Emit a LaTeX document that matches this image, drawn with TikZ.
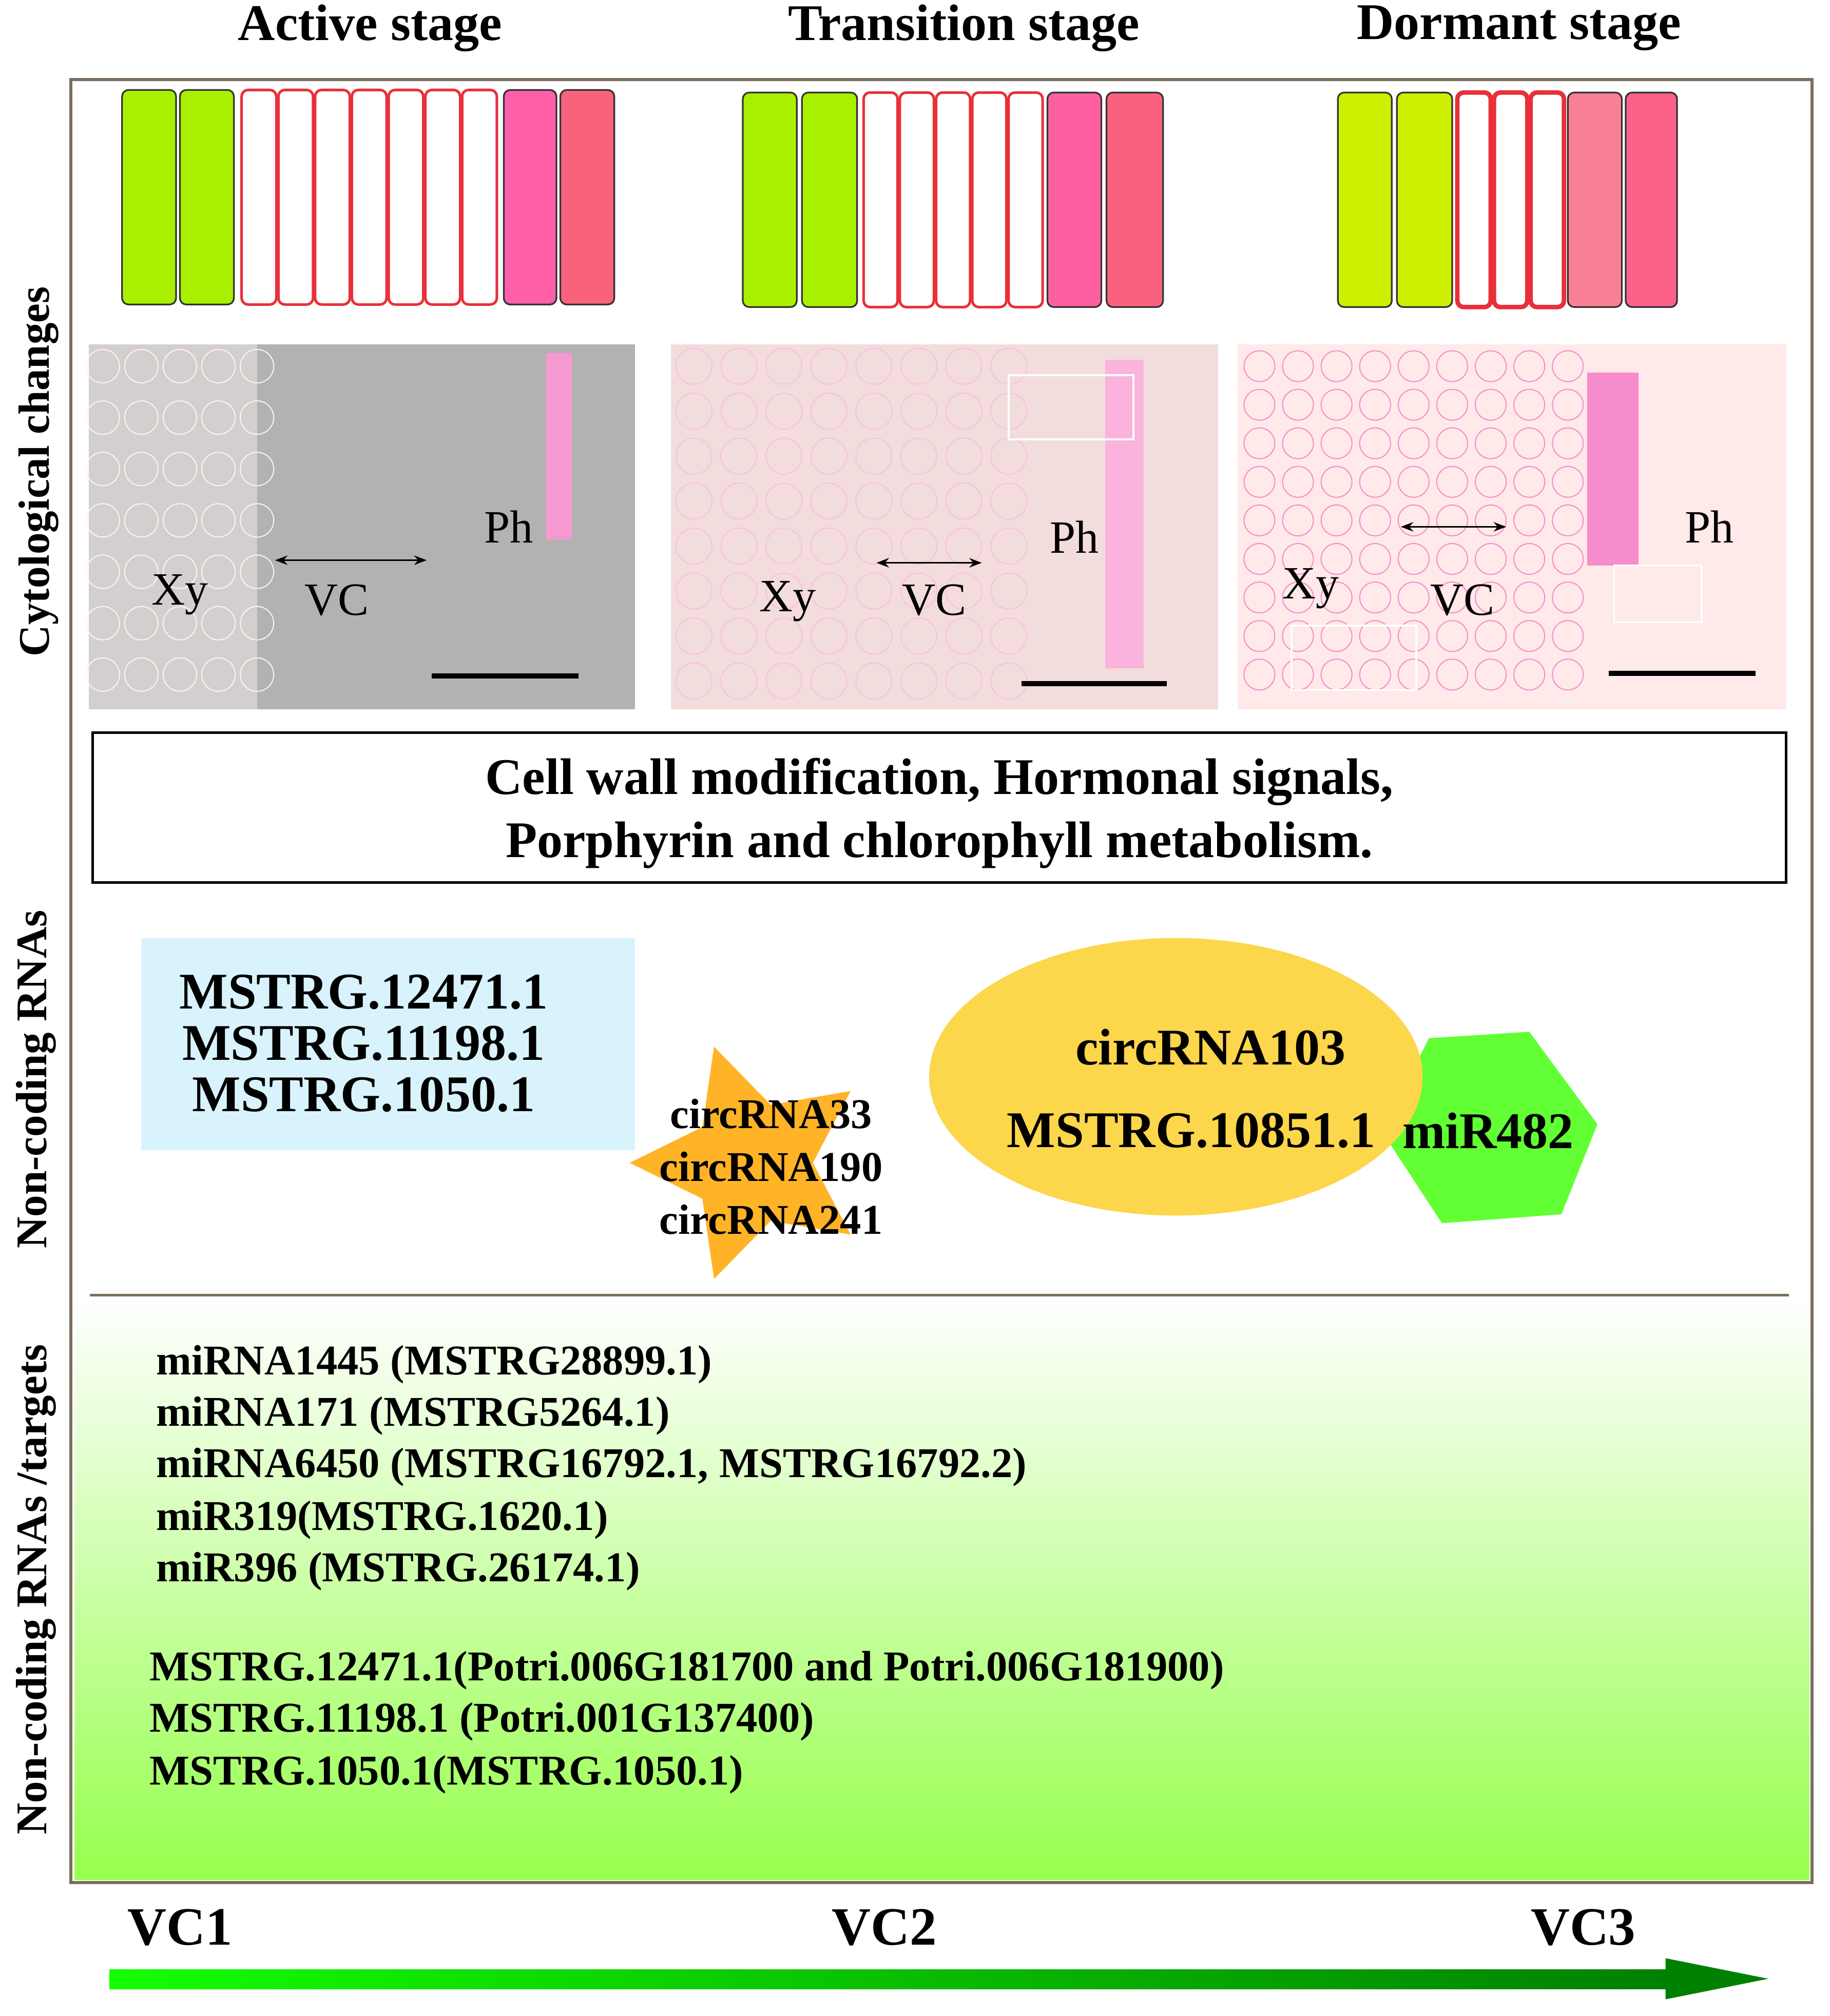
\documentclass[tikz,border=0pt]{standalone}
\usepackage{fontspec}
\setmainfont{Liberation Serif}
\usetikzlibrary{shapes.geometric,arrows.meta}
\definecolor{frm}{HTML}{7A6E5E}
\definecolor{gA}{HTML}{A8F000}
\definecolor{gC}{HTML}{CCF000}
\definecolor{pA}{HTML}{FF5FA8}
\definecolor{pB}{HTML}{F8627A}
\definecolor{rc}{HTML}{E8303A}
\begin{document}
\begin{tikzpicture}[x=1pt,y=-1pt,
  ttl/.style={font=\bfseries\fontsize{40}{42}\selectfont},
  side/.style={font=\bfseries\fontsize{34}{36}\selectfont,rotate=90},
  cellbox/.style={draw=black!80,line width=1.3pt,rounded corners=5pt},
  wcell/.style={draw=rc,line width=2pt,fill=white,rounded corners=5pt},
  lbl/.style={font=\fontsize{36}{38}\selectfont},
  lst/.style={font=\bfseries\fontsize{33}{35}\selectfont,anchor=west},
  big/.style={font=\bfseries\fontsize{40}{42}\selectfont}]
\useasboundingbox (0,0) rectangle (1424,1569);
\fill[white] (0,0) rectangle (1424,1569);
% gradient area
\shade[top color=white,bottom color={green!45!lime!70}] (58,1010) rectangle (1408,1463);
% frame
\draw[frm,line width=2.5pt] (55,62) rectangle (1410,1465);
% titles
\node[ttl] (t1) at (288,22) {Active stage};
\node[ttl] (t2) at (750,22) {Transition stage};
\node[ttl] (t3) at (1182,22) {Dormant stage};
% active cells
\draw[cellbox,fill=gA] (95,70) rectangle (137,237);
\draw[cellbox,fill=gA] (140,70) rectangle (182,237);
\foreach \i in {0,...,6}{\draw[wcell] ({188+\i*28.6},70) rectangle ({188+\i*28.6+27},237);}
\draw[cellbox,fill=pA] (392,70) rectangle (433,237);
\draw[cellbox,fill=pB] (436,70) rectangle (478,237);
% transition cells
\draw[cellbox,fill=gA] (578,72) rectangle (620,239);
\draw[cellbox,fill=gA] (624,72) rectangle (667,239);
\foreach \i in {0,...,4}{\draw[wcell] ({672+\i*28.2},72) rectangle ({672+\i*28.2+26.5},239);}
\draw[cellbox,fill=pA!85!pB] (815,72) rectangle (857,239);
\draw[cellbox,fill=pB!90!pA] (861,72) rectangle (905,239);
% dormant cells
\draw[cellbox,fill=gC] (1041,72) rectangle (1083,239);
\draw[cellbox,fill=gC] (1087,72) rectangle (1130,239);
\foreach \i in {0,...,2}{\draw[wcell,line width=3.5pt] ({1134+\i*28.5},72) rectangle ({1134+\i*28.5+26},239);}
\draw[cellbox,fill=pB!80!white] (1220,72) rectangle (1262,239);
\draw[cellbox,fill=pB!70!pA] (1265,72) rectangle (1305,239);
% photos
\fill[black!30] (69,268) rectangle (494,552);
\fill[pink!60!black!20,opacity=0.6] (69,268) rectangle (200,552);
\fill[magenta!40!white] (425,275) rectangle (445,420);
\fill[black!12!pink!40] (522,268) rectangle (948,552);
\fill[magenta!30!white] (860,280) rectangle (890,520);
\fill[pink!35!white] (963,268) rectangle (1390,552);
\fill[magenta!45!white] (1235,290) rectangle (1275,440);
\foreach \x in {80,110,...,200}{\foreach \y in {285,325,...,545}{\draw[white!80!pink,line width=0.8pt] (\x,\y) circle (13);}}
\foreach \x in {540,575,...,800}{\foreach \y in {285,320,...,545}{\draw[magenta!25,line width=0.8pt] (\x,\y) circle (14);}}
\foreach \x in {980,1010,...,1220}{\foreach \y in {285,315,...,545}{\draw[magenta!45,line width=0.8pt] (\x,\y) circle (12);}}
\draw[white,line width=1.5pt] (785,292) rectangle (882,342);
\draw[white,line width=1.5pt] (1256,440) rectangle (1324,484);
\draw[white,line width=1.5pt] (1005,487) rectangle (1102,537);
% photo labels
\node[lbl] (xy1) at (140,463) {Xy}; \node[lbl] (vc1) at (262,467) {VC}; \node[lbl] (ph1) at (396,410) {Ph};
\coordinate (a1l) at (214,436); \coordinate (a1r) at (332,436);
\draw[{Stealth}-{Stealth},line width=1.5pt] (a1l) -- (a1r);
\node[lbl] (xy2) at (613,468) {Xy}; \node[lbl] (vc2) at (727,467) {VC}; \node[lbl] (ph2) at (836,418) {Ph};
\coordinate (a2l) at (682,438); \coordinate (a2r) at (764,438);
\draw[{Stealth}-{Stealth},line width=1.5pt] (a2l) -- (a2r);
\node[lbl] (xy3) at (1020,458) {Xy}; \node[lbl] (vc3) at (1138,467) {VC}; \node[lbl] (ph3) at (1330,410) {Ph};
\coordinate (a3l) at (1090,410); \coordinate (a3r) at (1172,410);
\draw[{Stealth}-{Stealth},line width=1.5pt] (a3l) -- (a3r);
\coordinate (s1a) at (336,526); \coordinate (s1b) at (450,526); \draw[line width=4pt] (s1a) -- (s1b);
\coordinate (s2a) at (795,532); \coordinate (s2b) at (908,532); \draw[line width=4pt] (s2a) -- (s2b);
\coordinate (s3a) at (1252,524); \coordinate (s3b) at (1366,524); \draw[line width=4pt] (s3a) -- (s3b);
% box
\draw[line width=2pt] (72,570) rectangle (1390,687);
\node[font=\bfseries\fontsize{40}{49}\selectfont,align=center] (cw) at (731,633) {Cell wall modification, Hormonal signals,\\Porphyrin and chlorophyll metabolism.};
% side labels
\node[side] (sl1) at (30,367) {Cytological changes};
\node[side] (sl2) at (28,840) {Non-coding RNAs};
\node[side] (sl3) at (28,1237) {Non-coding RNAs /targets};
% ncRNAs
\fill[cyan!15] (110,730) rectangle (494,895);
\node[big,align=center,font=\bfseries\fontsize{40}{40}\selectfont] (lnc) at (283,812) {MSTRG.12471.1\\MSTRG.11198.1\\MSTRG.1050.1};
\node[star,star points=5,star point ratio=2.0,fill=orange!70!yellow!85,minimum size=190pt,inner sep=0pt,rotate=90] (st) at (585,905) {};
\node[font=\bfseries\fontsize{33}{41}\selectfont,align=center] (circ) at (600,908) {circRNA33\\circRNA190\\circRNA241};
\fill[green!70!lime!80] (1075,880) -- (1112,808) -- (1190,803) -- (1243,875) -- (1215,945) -- (1122,952) -- cycle;
\node[ellipse,fill=yellow!60!orange!70,minimum width=384pt,minimum height=216pt] (el) at (915,838) {};
\node[big] (c103) at (942,815) {circRNA103};
\node[big] (m108) at (927,880) {MSTRG.10851.1};
\node[big] (mi) at (1158,880) {miR482};
\coordinate (hl) at (70,1008); \coordinate (hr) at (1392,1008);
\draw[frm,line width=1.8pt] (hl) -- (hr);
% list
\node[lst] (l1) at (118,1062) {miRNA1445 (MSTRG28899.1)};
\node[lst] (l2) at (118,1102) {miRNA171 (MSTRG5264.1)};
\node[lst] (l3) at (118,1142) {miRNA6450 (MSTRG16792.1, MSTRG16792.2)};
\node[lst] (l4) at (118,1183) {miR319(MSTRG.1620.1)};
\node[lst] (l5) at (118,1223) {miR396 (MSTRG.26174.1)};
\node[lst] (l6) at (113,1300) {MSTRG.12471.1(Potri.006G181700 and Potri.006G181900)};
\node[lst] (l7) at (113,1340) {MSTRG.11198.1 (Potri.001G137400)};
\node[lst] (l8) at (113,1381) {MSTRG.1050.1(MSTRG.1050.1)};
% bottom
\node[ttl,font=\bfseries\fontsize{42}{44}\selectfont] (v1) at (140,1500) {VC1};
\node[ttl,font=\bfseries\fontsize{42}{44}\selectfont] (v2) at (688,1500) {VC2};
\node[ttl,font=\bfseries\fontsize{42}{44}\selectfont] (v3) at (1232,1500) {VC3};
\shade[left color=green!90!lime,right color=green!50!black] (85,1533) rectangle (1300,1548);
\coordinate (ah1) at (1296,1524); \coordinate (ah2) at (1376,1540); \coordinate (ah3) at (1296,1556);
\fill[green!50!black] (ah1) -- (ah2) -- (ah3) -- cycle;
\end{tikzpicture}
\end{document}
